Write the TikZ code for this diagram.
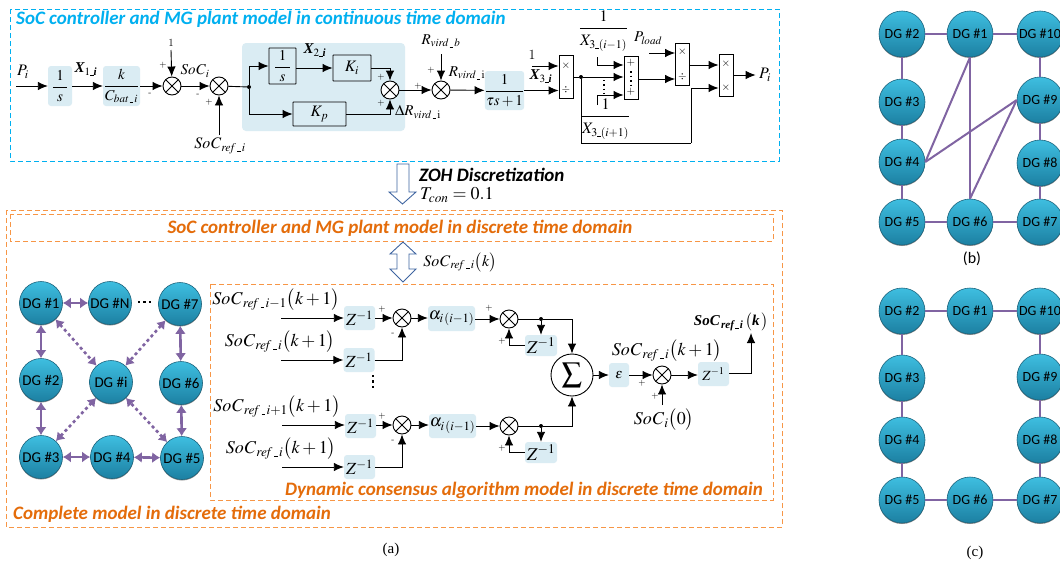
\documentclass[tikz,border=0pt]{standalone}
\usepackage{amsmath}
\usepackage{mathptmx}
\usepackage{fontspec}
\newfontfamily\calfont{Carlito}
\newfontfamily\timesfont{Liberation Serif}
\usepackage{tikz}
\usetikzlibrary{arrows.meta,shadows}

\definecolor{skyline}{RGB}{0,176,240}
\definecolor{orangeline}{RGB}{247,150,70}
\definecolor{orangetext}{RGB}{228,108,10}
\definecolor{panelblue}{RGB}{218,236,243}
\definecolor{linkpurple}{RGB}{128,100,162}
\definecolor{hollowblue}{RGB}{62,100,160}
\definecolor{balltop}{RGB}{62,190,224}
\definecolor{ballbot}{RGB}{28,128,162}
\definecolor{balledge}{RGB}{28,100,125}

\newcommand{\undsc}{\rule{3.5pt}{.3pt}}
\newcommand{\socr}[1]{\mathit{SoC}_{\mathit{ref}\,\undsc\,#1}}
\newcommand{\xsub}[1]{X_{3\undsc(#1)}}
\newcommand{\bfit}[1]{\text{\timesfont\bfseries\itshape #1}}

\tikzset{
  sz/.style={font=\fontsize{#1}{#1}\selectfont},
  dashbox/.style={dash pattern=on 5pt off 3pt,line width=1pt},
  titlelbl/.style={font=\calfont\fontsize{19}{19}\selectfont\bfseries\itshape,inner sep=0},
  bluebox/.style={fill=panelblue,rounded corners=3pt,inner sep=0},
  blackbox/.style={draw,fill=panelblue,line width=.9pt,rounded corners=.5pt,inner sep=0},
  whitebox/.style={draw,fill=white,line width=.9pt,inner sep=0},
  sumnode/.style={circle,draw,fill=white,line width=.9pt,minimum size=18,inner sep=0,
    path picture={\draw[line width=.8pt] (path picture bounding box.north west) -- (path picture bounding box.south east)
    (path picture bounding box.north east) -- (path picture bounding box.south west);}},
  signlbl/.style={sz=9,inner sep=0},
  zbox/.style={bluebox,minimum width=31,minimum height=24,sz=17},
  dotnode/.style={circle,fill,minimum size=4,inner sep=0},
  flow/.style={-{Latex[length=10pt,width=8.5pt]},line width=.9pt},
  line/.style={line width=.9pt},
  dotrow/.style={line width=#1,dash pattern=on #1 off 3pt},
  dgball/.style={circle,inner sep=0,top color=balltop,bottom color=ballbot,draw=balledge,line width=.6pt,
    general shadow={fill=black!45,shadow xshift=0pt,shadow yshift=-1pt},font=\calfont\fontsize{#1}{#1}\selectfont},
  duplex/.style={{Latex[length=8pt,width=11pt]}-{Latex[length=8pt,width=11pt]},linkpurple,line width=2.6pt},
  duplexdot/.style={{Latex[length=8pt,width=11pt]}-{Latex[length=8pt,width=11pt]},linkpurple,line width=2.6pt,dash pattern=on 3pt off 3pt},
  link/.style={linkpurple,line width=2pt},
  hollow/.style={draw=hollowblue,fill=white,line width=.9pt,line join=miter}
}

\begin{document}
\begin{tikzpicture}[x=1pt,y=-1pt]

\useasboundingbox (0,0) rectangle (1060,565);

\fill[white] (0,0) rectangle (1060,565);

\draw[dashbox,skyline] (10,9) rectangle (779,161);

\node (titlecont) at (16,19) [titlelbl,anchor=west,skyline] {SoC controller and MG plant model in continuous time domain};

\fill[panelblue,rounded corners=4pt] (242,43) rectangle (405,131);

\coordinate (pin) at (16,86);

\node (intx) at (60,86) [bluebox,minimum width=24,minimum height=40,sz=15] {$\dfrac{\;1\;}{s}$};

\node (gaink) at (121.5,86) [bluebox,minimum width=37,minimum height=40,sz=15] {$\dfrac{k}{C_{\mathit{bat}\,\undsc\,i}}$};

\node (suma) at (172,86) [sumnode] {};

\node (sumb) at (219,86) [sumnode] {};

\node (lblpi) at (23,72) [sz=16] {$P_i$};

\node (lblxa) at (86,69) [sz=15] {$\bfit{X}_{1\undsc\bfit{i}}$};

\node (lblone) at (171,43) [sz=11] {1};

\coordinate (onetail) at (171,50);

\node (lblsoc) at (195,71) [sz=15] {$\mathit{SoC}_i$};

\node (lblref) at (220,146) [sz=16] {$\socr{i}$};

\coordinate (reftail) at (219,135);

\node (sa) at (163,65) [signlbl] {+};

\node (sb) at (150,94) [signlbl] {-};

\node (sc) at (198,95) [signlbl] {-};

\node (sd) at (209,102) [signlbl] {+};

\draw[flow] (pin) -- (intx);

\draw[flow] (intx) -- (gaink);

\draw[flow] (gaink) -- (suma);

\draw[flow] (onetail) -- (suma);

\draw[flow] (suma) -- (sumb);

\draw[flow] (reftail) -- (sumb);

\node (intb) at (282.5,66) [blackbox,minimum width=27,minimum height=36,sz=15] {$\dfrac{\;1\;}{s}$};

\node (gainki) at (352,68) [blackbox,minimum width=38,minimum height=26,sz=16] {$K_i$};

\node (gainkp) at (319.5,114) [blackbox,minimum width=53,minimum height=24,sz=16] {$K_p$};

\node (sumc) at (390,90) [sumnode] {};

\node (jointa) at (249,87) [dotnode] {};

\node (lblxb) at (315,50) [sz=15] {$\bfit{X}_{2\undsc\bfit{i}}$};

\node (se) at (381,77) [signlbl] {+};

\node (sf) at (381,103) [signlbl] {+};

\draw[line] (sumb) -- (jointa);

\draw[flow] (jointa) |- (intb);

\draw[flow] (jointa) |- (gainkp);

\draw[flow] (intb.east |- gainki) -- (gainki);

\draw[flow] (gainki) -| (sumc);

\draw[flow] (gainkp) -| (sumc);

\node (sumd) at (441,90) [sumnode] {};

\node (lblrb) at (441,41) [sz=15] {$R_{\mathit{vird}\,\undsc\,\mathit{b}}$};

\coordinate (rbtail) at (441,54);

\node (lbldr) at (418,112) [sz=15] {$\Delta R_{\mathit{vird}\,\undsc\,\mathrm{i}}$};

\node (lblri) at (467,73) [sz=15] {$R_{\mathit{vird}\,\undsc\,\mathrm{i}}$};

\node (sg) at (418,86) [signlbl] {+};

\node (sh) at (431,70) [signlbl] {+};

\node (lagbox) at (504.5,90.5) [bluebox,minimum width=37,minimum height=39,sz=15] {$\dfrac{1}{\tau s+1}$};

\draw[flow] (sumc) -- (sumd);

\draw[flow] (rbtail) -- (sumd);

\draw[flow] (sumd) -- (lagbox);

\node (mula) at (566,76.5) [whitebox,minimum width=14,minimum height=43] {};

\node (mulax) at (566,66) [sz=11,inner sep=0] {$\times$};

\node (mulad) at (566,90) [sz=11,inner sep=0] {$\div$};

\node (lblonex) at (532,55) [sz=14] {1};

\coordinate (onextail) at (532,66);

\node (lblxc) at (541,76) [sz=15] {$\bfit{X}_{3\undsc\bfit{i}}$};

\draw[flow] (onextail) -- (mula.west |- onextail);

\draw[flow] (lagbox) -- (mula.west |- lagbox);

\node (joinb) at (581,77) [dotnode] {};

\node (addb) at (631,77.5) [whitebox,minimum width=14,minimum height=43] {};

\node (addbp) at (631,63) [sz=11,inner sep=0] {$+$};

\node (addbq) at (631,92) [sz=11,inner sep=0] {$+$};

\coordinate (addbdta) at (631,71);

\coordinate (addbdtb) at (631,85);

\draw[dotrow=1.5pt] (addbdta) -- (addbdtb);

\node (fraca) at (603.5,31) [sz=16,inner sep=0] {$\dfrac{\quad\;1\quad\;}{\rule{0pt}{15pt}\xsub{i-1}}$};

\node (fracb) at (605.5,119) [sz=16,inner sep=0] {$\dfrac{\quad\;1\quad\;}{\rule{0pt}{15pt}\xsub{i+1}}$};

\coordinate (fatail) at (597,57);

\coordinate (fbtail) at (597,105);

\coordinate (dotsba) at (604,80);

\coordinate (dotsbb) at (604,93);

\draw[dotrow=1.3pt] (dotsba) -- (dotsbb);

\draw[line] (mula.east |- joinb) -- (joinb);

\draw[flow] (joinb) -- (addb.west |- joinb);

\draw[flow] (fatail) |- (addb.west |- 0,65);

\draw[flow] (fbtail) |- (addb.west |- 0,95);

\node (mulc) at (682.5,64) [whitebox,minimum width=14,minimum height=42] {};

\node (mulcx) at (682.5,52) [sz=11,inner sep=0] {$\times$};

\node (mulcd) at (682.5,77) [sz=11,inner sep=0] {$\div$};

\node (lblload) at (648,38) [sz=15] {$P_{\mathit{load}}$};

\coordinate (loadtail) at (649,53);

\draw[flow] (loadtail) -- (mulc.west |- loadtail);

\draw[flow] (addb.east |- 0,79) -- (mulc.west |- 0,79);

\node (muld) at (726,75) [whitebox,minimum width=14,minimum height=42] {};

\node (muldx) at (726,64) [sz=11,inner sep=0] {$\times$};

\node (muldy) at (726,88) [sz=11,inner sep=0] {$\times$};

\coordinate (bendb) at (691,143);

\draw[flow] (mulc.east |- 0,65) -- (muld.west |- 0,65);

\draw[line] (joinb) |- (bendb);

\draw[flow] (bendb) |- (muld.west |- 0,88);

\node (lblpo) at (765,75) [sz=16] {$P_i$};

\draw[flow] (muld) -- (lblpo);

\draw[hollow] (397,164) -- (409,164) -- (409,192) -- (416,192) -- (402.5,204) -- (389,192) -- (397,192) -- cycle;

\node (lblzoh) at (419,175) [anchor=west,font=\calfont\fontsize{19}{19}\selectfont\bfseries\itshape,inner sep=0] {ZOH Discretization};

\node (lbltcon) at (420,195) [anchor=west,sz=18,inner sep=0] {$T_{\mathit{con}}=0.1$};

\draw[dashbox,orangeline] (6,210) rectangle (782,527);

\draw[dashbox,orangeline] (10,214) rectangle (773,241);

\node (titledisc) at (400,228) [titlelbl,orangetext] {SoC controller and MG plant model in discrete time domain};

\draw[hollow] (403,242) -- (416,254) -- (409,254) -- (409,269) -- (416,269) -- (403,282) -- (390,269) -- (397,269) -- (397,254) -- (390,254) -- cycle;

\node (lblrefk) at (460,262) [sz=16] {$\socr{i}\bigl(k\bigr)$};

\draw[dashbox,orangeline] (210,284) rectangle (773,500);

\node (titledca) at (763,490) [titlelbl,anchor=east,orangetext] {Dynamic consensus algorithm model in discrete time domain};

\node (titlecomp) at (13,514) [titlelbl,anchor=west,orangetext] {Complete model in discrete time domain};

\node (dgone) at (41,303) [dgball=15,minimum size=43] {DG \#1};

\node (dgn) at (110,303) [dgball=15,minimum size=43] {DG \#N};

\node (dgseven) at (180,304) [dgball=15,minimum size=43] {DG \#7};

\node (dgtwo) at (41,380) [dgball=15,minimum size=43] {DG \#2};

\node (dgi) at (111,382) [dgball=15,minimum size=43] {DG \#i};

\node (dgsix) at (181,383) [dgball=15,minimum size=43] {DG \#6};

\node (dgthree) at (41,457) [dgball=15,minimum size=43] {DG \#3};

\node (dgfour) at (112,457) [dgball=15,minimum size=43] {DG \#4};

\node (dgfive) at (182,458) [dgball=15,minimum size=43] {DG \#5};

\coordinate (dgdota) at (138,302);

\coordinate (dgdotb) at (154,302);

\draw[dotrow=2.4pt] (dgdota) -- (dgdotb);

\draw[duplex] (dgone) -- (dgn);

\draw[duplex] (dgone) -- (dgtwo);

\draw[duplex] (dgtwo) -- (dgthree);

\draw[duplex] (dgseven) -- (dgsix);

\draw[duplex] (dgsix) -- (dgfive);

\draw[duplex] (dgthree) -- (dgfour);

\draw[duplex] (dgfour) -- (dgfive);

\draw[duplexdot] (dgone) -- (dgi);

\draw[duplexdot] (dgseven) -- (dgi);

\draw[duplexdot] (dgthree) -- (dgi);

\draw[duplexdot] (dgfive) -- (dgi);

\node (lblrowa) at (276,300) [sz=18] {$\socr{i-1}\bigl(k+1\bigr)$};

\node (lblrowb) at (280,342) [sz=18] {$\socr{i}\bigl(k+1\bigr)$};

\node (lblrowc) at (277,407) [sz=18] {$\socr{i+1}\bigl(k+1\bigr)$};

\node (lblrowd) at (281,449) [sz=18] {$\socr{i}\bigl(k+1\bigr)$};

\coordinate (tailrowa) at (281,318);

\coordinate (tailrowb) at (281,360);

\coordinate (tailrowc) at (282,425);

\coordinate (tailrowd) at (282,467);

\node (zrowa) at (359.5,318) [zbox] {$Z^{-1}$};

\node (zrowb) at (359,360) [zbox] {$Z^{-1}$};

\node (zrowc) at (360.5,426) [zbox] {$Z^{-1}$};

\node (zrowd) at (359.5,467) [zbox] {$Z^{-1}$};

\node (sumrowa) at (402,318) [sumnode] {};

\node (sumrowc) at (402,425) [sumnode] {};

\coordinate (rowdota) at (373,375);

\coordinate (rowdotb) at (373,391);

\draw[dotrow=2.4pt] (rowdota) -- (rowdotb);

\node (alphaa) at (451.5,318.5) [bluebox,minimum width=47,minimum height=25,sz=17] {$\alpha_{i\,(i-1)}$};

\node (alphac) at (452.5,426) [bluebox,minimum width=47,minimum height=24,sz=17] {$\alpha_{i\,(i-1)}$};

\node (sumfba) at (509,319) [sumnode] {};

\node (sumfbc) at (509,426) [sumnode] {};

\node (joinfba) at (541,319) [dotnode] {};

\node (joinfbc) at (541,426) [dotnode] {};

\node (zfba) at (541,345.5) [bluebox,minimum width=32,minimum height=21,sz=18] {$Z^{-1}$};

\node (zfbc) at (541,452.5) [bluebox,minimum width=32,minimum height=21,sz=18] {$Z^{-1}$};

\node (sigma) at (572,375) [circle,draw,fill=white,line width=.9pt,minimum size=42,inner sep=0,sz=20] {$\displaystyle\sum$};

\node (si) at (382,309) [signlbl] {+};

\node (sj) at (393,334) [signlbl] {-};

\node (sk) at (382,416) [signlbl] {+};

\node (sl) at (393,441) [signlbl] {-};

\node (sm) at (489,308) [signlbl] {+};

\node (sn) at (502,341) [signlbl] {+};

\node (so) at (502,448) [signlbl] {+};

\draw[flow] (tailrowa) -- (zrowa);

\draw[flow] (tailrowb) -- (zrowb);

\draw[flow] (tailrowc) -- (zrowc.west |- tailrowc);

\draw[flow] (tailrowd) -- (zrowd);

\draw[flow] (zrowa) -- (sumrowa);

\draw[flow] (zrowc.east |- sumrowc) -- (sumrowc);

\draw[flow] (zrowb) -| (sumrowa);

\draw[flow] (zrowd) -| (sumrowc);

\draw[flow] (sumrowa) -- (alphaa.west |- sumrowa);

\draw[flow] (sumrowc) -- (alphac.west |- sumrowc);

\draw[flow] (alphaa.east |- sumfba) -- (sumfba);

\draw[flow] (alphac) -- (sumfbc);

\draw[line] (sumfba) -- (joinfba);

\draw[line] (sumfbc) -- (joinfbc);

\draw[flow] (joinfba) -- (zfba);

\draw[flow] (joinfbc) -- (zfbc);

\draw[flow] (zfba) -| (sumfba);

\draw[flow] (zfbc) -| (sumfbc);

\draw[flow] (joinfba) -| (sigma);

\draw[flow] (joinfbc) -| (sigma);

\node (epsbox) at (619,375) [bluebox,minimum width=20,minimum height=24,sz=14] {$\varepsilon$};

\node (sumeps) at (662,375) [sumnode] {};

\node (zout) at (713.5,374) [zbox,sz=14] {$Z^{-1}$};

\node (lblnext) at (667,351) [sz=18] {$\socr{i}\bigl(k+1\bigr)$};

\node (lblzero) at (664,420) [sz=18] {$\mathit{SoC}_i\bigl(0\bigr)$};

\coordinate (zerotail) at (662,405);

\node (lblrefout) at (731,322) [sz=15] {$\bfit{SoC}_{\,\bfit{ref}\,\undsc\,\bfit{i}}\,\bigl(\bfit{k}\,\bigr)$};

\coordinate (outtip) at (751,333);

\node (sp) at (642,383) [signlbl] {+};

\node (sq) at (655,396) [signlbl] {+};

\draw[flow] (sigma) -- (epsbox);

\draw[flow] (epsbox) -- (sumeps);

\draw[flow] (zerotail) -- (sumeps);

\draw[flow] (sumeps) -- (zout.west |- sumeps);

\draw[flow] (zout.east |- 0,373) -| (outtip);

\node (capa) at (391,550) [font=\timesfont\fontsize{15}{15}\selectfont] {(a)};

\node (bdgtwo) at (902,34) [dgball=14,minimum size=46] {DG \#2};

\node (bdgone) at (970,34) [dgball=14,minimum size=46] {DG \#1};

\node (bdgten) at (1040,34) [dgball=14,minimum size=46] {DG \#10};

\node (bdgthree) at (902,102) [dgball=14,minimum size=46] {DG \#3};

\node (bdgnine) at (1040,100) [dgball=14,minimum size=46] {DG \#9};

\node (bdgfour) at (902,162) [dgball=14,minimum size=46] {DG \#4};

\node (bdgeight) at (1040,163) [dgball=14,minimum size=46] {DG \#8};

\node (bdgfive) at (902,222) [dgball=14,minimum size=46] {DG \#5};

\node (bdgsix) at (970,222) [dgball=14,minimum size=46] {DG \#6};

\node (bdgseven) at (1040,222) [dgball=14,minimum size=46] {DG \#7};

\draw[link] (bdgtwo) -- (bdgone);

\draw[link] (bdgone) -- (bdgten);

\draw[link] (bdgtwo) -- (bdgthree);

\draw[link] (bdgthree) -- (bdgfour);

\draw[link] (bdgfour) -- (bdgfive);

\draw[link] (bdgfive) -- (bdgsix);

\draw[link] (bdgsix) -- (bdgseven);

\draw[link] (bdgseven) -- (bdgeight);

\draw[link] (bdgeight) -- (bdgnine);

\draw[link] (bdgnine) -- (bdgten);

\draw[link] (bdgone.south) -- (bdgfour.east);

\draw[link] (bdgone.south) -- (bdgsix.north);

\draw[link] (bdgfour.east) -- (bdgnine.west);

\draw[link] (bdgsix.north) -- (bdgnine.west);

\node (capb) at (972,259) [font=\calfont\fontsize{16}{16}\selectfont] {(b)};

\node (cdgtwo) at (902,311) [dgball=14,minimum size=46] {DG \#2};

\node (cdgone) at (970,311) [dgball=14,minimum size=46] {DG \#1};

\node (cdgten) at (1040,311) [dgball=14,minimum size=46] {DG \#10};

\node (cdgthree) at (902,378) [dgball=14,minimum size=46] {DG \#3};

\node (cdgnine) at (1040,377) [dgball=14,minimum size=46] {DG \#9};

\node (cdgfour) at (902,440) [dgball=14,minimum size=46] {DG \#4};

\node (cdgeight) at (1040,440) [dgball=14,minimum size=46] {DG \#8};

\node (cdgfive) at (902,500) [dgball=14,minimum size=46] {DG \#5};

\node (cdgsix) at (970,500) [dgball=14,minimum size=46] {DG \#6};

\node (cdgseven) at (1040,500) [dgball=14,minimum size=46] {DG \#7};

\draw[link] (cdgtwo) -- (cdgone);

\draw[link] (cdgone) -- (cdgten);

\draw[link] (cdgtwo) -- (cdgthree);

\draw[link] (cdgthree) -- (cdgfour);

\draw[link] (cdgfour) -- (cdgfive);

\draw[link] (cdgfive) -- (cdgsix);

\draw[link] (cdgsix) -- (cdgseven);

\draw[link] (cdgseven) -- (cdgeight);

\draw[link] (cdgeight) -- (cdgnine);

\draw[link] (cdgnine) -- (cdgten);

\node (capc) at (975,553) [font=\timesfont\fontsize{15}{15}\selectfont] {(c)};

\end{tikzpicture}
\end{document}
